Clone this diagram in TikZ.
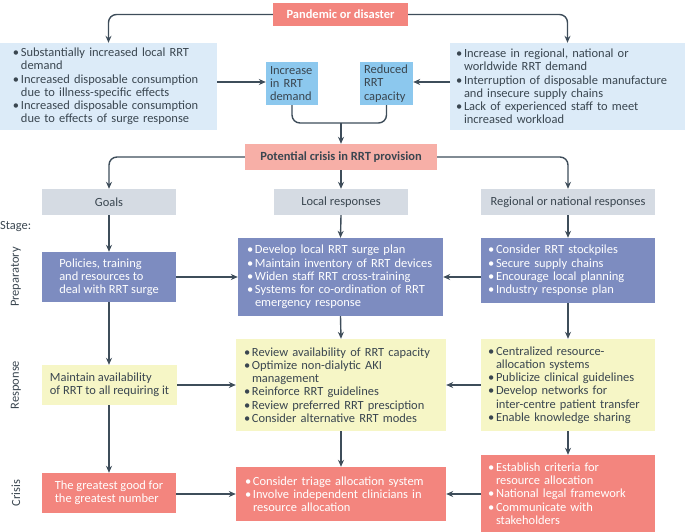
\documentclass[tikz,border=0pt]{standalone}
\usepackage{fontspec}
\setmainfont{Carlito}
\usetikzlibrary{arrows.meta,calc}
\definecolor{salmon}{HTML}{F3857E}
\definecolor{salmonlt}{HTML}{F7AFA7}
\definecolor{lblue}{HTML}{DCEBF8}
\definecolor{mblue}{HTML}{8CC8EE}
\definecolor{hgray}{HTML}{D5DBE3}
\definecolor{slate}{HTML}{7D8CC0}
\definecolor{lyellow}{HTML}{F6F6C6}
\definecolor{arrowc}{HTML}{3E4D5A}
\definecolor{txt}{HTML}{3A4650}
\newcommand\bl{\makebox[8bp][l]{\textbullet}}
\newcommand\ind{\hspace*{8bp}}
\newcommand\myfs{\fontsize{12.5}{13.3}\selectfont}
\tikzset{
  base/.style={rectangle, inner sep=0pt, font=\myfs, text=txt},
  bbox/.style={base, align=left},
  arr/.style={draw=arrowc, line width=1.4pt, -{Stealth[length=7pt,width=6pt]}},
  ln/.style={draw=arrowc, line width=1.4pt},
  stagelab/.style={font=\myfs, text=txt, rotate=90}
}
\begin{document}
\begin{tikzpicture}[x=1bp,y=-1bp]
\useasboundingbox (0,0) rectangle (685,532);
% top
\node[base, fill=salmon, text=white, font=\myfs\bfseries, minimum width=135bp, minimum height=23bp] (pand) at (340.5,14.5) {Pandemic or disaster};
\node[bbox, fill=lblue, minimum width=217bp, minimum height=87bp, text width=191bp] (leftb) at (108.5,86.5) {\bl Substantially increased local RRT\\\ind demand\\\bl Increased disposable consumption\\\ind due to illness-specific effects\\\bl Increased disposable consumption\\\ind due to effects of surge response};
\node[bbox, fill=lblue, minimum width=235bp, minimum height=87bp, text width=223bp] (rightb) at (567.5,86.5) {\bl Increase in regional, national or\\\ind worldwide RRT demand\\\bl Interruption of disposable manufacture\\\ind and insecure supply chains\\\bl Lack of experienced staff to meet\\\ind increased workload};
\node[bbox, fill=mblue, minimum width=52bp, minimum height=43bp, text width=44bp] (inc) at (292,83.5) {Increase\\in RRT\\demand};
\node[bbox, fill=mblue, minimum width=53bp, minimum height=43bp, text width=45bp] (red) at (386.5,83.5) {Reduced\\RRT\\capacity};
\node[base, fill=salmonlt, font=\myfs\bfseries, minimum width=192bp, minimum height=26bp] (crisis) at (341,157) {Potential crisis in RRT provision};
\coordinate (junc) at (341,123);
% headers
\node[base, fill=hgray, minimum width=134bp, minimum height=26bp] (goals) at (109,202) {Goals};
\node[base, fill=hgray, minimum width=134bp, minimum height=26bp] (localh) at (341,202) {Local responses};
\node[base, fill=hgray, minimum width=174bp, minimum height=26bp] (regh) at (568,202) {Regional or national responses};
% stage labels
\node[base, anchor=west] (stage) at (0,227) {Stage:};
\node[stagelab] (lprepl) at (16,277) {Preparatory};
\node[stagelab] (lrespl) at (16,385) {Response};
\node[stagelab] (lcrisl) at (16,493) {Crisis};
% preparatory
\node[bbox, fill=slate, text=white, minimum width=134bp, minimum height=50bp] (pol) at (109,277) {Policies, training\\and resources to\\deal with RRT surge};
\node[bbox, fill=slate, text=white, minimum width=205bp, minimum height=78bp, text width=187bp] (lprep) at (340.5,277) {\bl Develop local RRT surge plan\\\bl Maintain inventory of RRT devices\\\bl Widen staff RRT cross-training\\\bl Systems for co-ordination of RRT\\\ind emergency response};
\node[bbox, fill=slate, text=white, minimum width=174bp, minimum height=65bp, text width=160bp] (rprep) at (568,270.5) {\bl Consider RRT stockpiles\\\bl Secure supply chains\\\bl Encourage local planning\\\bl Industry response plan};
% response
\node[bbox, fill=lyellow, minimum width=135bp, minimum height=40bp] (maint) at (109.5,385) {Maintain availability\\of RRT to all requiring it};
\node[bbox, fill=lyellow, minimum width=210bp, minimum height=92bp, text width=194bp] (lresp) at (341,385) {\bl Review availability of RRT capacity\\\bl Optimize non-dialytic AKI\\\ind management\\\bl Reinforce RRT guidelines\\\bl Review preferred RRT presciption\\\bl Consider alternative RRT modes};
\node[bbox, fill=lyellow, minimum width=174bp, minimum height=92bp, text width=160bp] (rresp) at (568,385) {\bl Centralized resource-\\\ind allocation systems\\\bl Publicize clinical guidelines\\\bl Develop networks for\\\ind inter-centre patient transfer\\\bl Enable knowledge sharing};
% crisis
\node[bbox, fill=salmon, text=white, minimum width=134bp, minimum height=40bp] (good) at (109,493) {The greatest good for\\the greatest number};
\node[bbox, fill=salmon, text=white, minimum width=210bp, minimum height=54bp, text width=192bp] (lcris) at (341,494) {\bl Consider triage allocation system\\\bl Involve independent clinicians in\\\ind resource allocation};
\node[bbox, fill=salmon, text=white, minimum width=174bp, minimum height=77bp, text width=160bp] (rcris) at (568,493.5) {\bl Establish criteria for\\\ind resource allocation\\\bl National legal framework\\\bl Communicate with\\\ind stakeholders};
% connectors
\draw[arr, rounded corners=8bp] (pand.west) -| (leftb.north);
\draw[arr, rounded corners=8bp] (pand.east) -| (rightb.north);
\draw[arr] (leftb.east |- 0,82) -- (inc.west |- 0,82);
\draw[arr] (rightb.west |- 0,82) -- (red.east |- 0,82);
\draw[ln, rounded corners=8bp] (inc.south) |- (junc) -| (red.south);
\draw[arr] (junc) -- (crisis.north);
\draw[arr, rounded corners=8bp] (crisis.west) -| (goals.north);
\draw[arr, rounded corners=8bp] (crisis.east) -| (regh.north);
\draw[arr] (crisis.south) -- (localh.north);
\draw[arr] (goals.south) -- (pol.north);
\draw[arr] (localh.south) -- (lprep.north);
\draw[arr] (regh.south) -- (rprep.north);
\draw[arr] (pol.east) -- (lprep.west);
\draw[arr] (rprep.west |- lprep.east) -- (lprep.east);
\draw[arr] (pol.south) -- (pol.south |- maint.north);
\draw[arr] (lprep.south) -- (lresp.north);
\draw[arr] (rprep.south) -- (rresp.north);
\draw[arr] (maint.east) -- (lresp.west);
\draw[arr] (rresp.west) -- (lresp.east);
\draw[arr] (maint.south -| good.north) -- (good.north);
\draw[arr] (lresp.south) -- (lcris.north);
\draw[arr] (rresp.south) -- (rcris.north);
\draw[arr] (good.east |- lcris.west) -- (lcris.west);
\draw[arr] (rcris.west |- lcris.east) -- (lcris.east);
\end{tikzpicture}
\end{document}
